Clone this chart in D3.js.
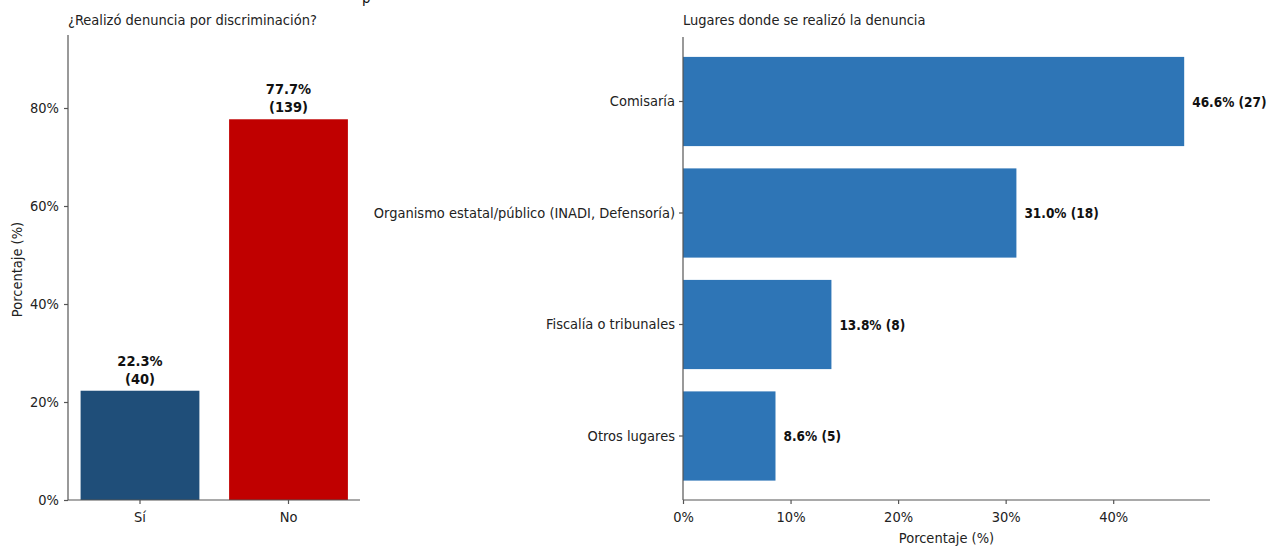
<!DOCTYPE html>
<html><head><meta charset="utf-8">
<script src="https://cdn.jsdelivr.net/npm/d3@7"></script>
<style>
body{margin:0;background:#fff;}
svg text{font-family:"DejaVu Sans Condensed","DejaVu Sans",sans-serif;}
</style></head>
<body><svg id="c" width="1278" height="546"></svg>
<script>
const leftCats = ["Sí","No"];
const leftPct = [22.3, 77.7];
const leftN = [40, 139];
const leftColors = ["#1f4e79","#c00000"];
const leftTicks = [0,20,40,60,80];

const rightCats = ["Comisaría","Organismo estatal/público (INADI, Defensoría)","Fiscalía o tribunales","Otros lugares"];
const rightPct = [46.6, 31.0, 13.8, 8.6];
const rightN = [27, 18, 8, 5];
const rightTicks = [0,10,20,30,40];

const svg = d3.select("#c");
const axisCol = "#555", txtCol = "#222", fs = 14.5;

// stray cut-off glyph at top
svg.append("text").attr("x",362).attr("y",3).attr("font-size",15).attr("fill","#111").text("p");

// LEFT
const L = {x0:68, x1:360, y0:500, y1:35};
const ly = d3.scaleLinear().domain([0,94.9]).range([L.y0,L.y1]);
const lx = d3.scaleBand().domain(leftCats).range([140-74.25, 288.5+74.25]).paddingInner(0.2).paddingOuter(0.1);
const lg = svg.append("g");
lg.selectAll("rect").data(leftCats).join("rect")
  .attr("x",d=>lx(d)).attr("width",lx.bandwidth())
  .attr("y",(d,i)=>ly(leftPct[i])).attr("height",(d,i)=>ly(0)-ly(leftPct[i]))
  .attr("fill",(d,i)=>leftColors[i]);
const lyAx = lg.append("g").attr("transform",`translate(${L.x0},0)`)
  .call(d3.axisLeft(ly).tickValues(leftTicks).tickFormat(d=>d+"%").tickSize(4).tickPadding(5));
lyAx.select(".domain").attr("d",`M0,${L.y0}V${L.y1}`);
const lxAx = lg.append("g").attr("transform",`translate(0,${L.y0})`)
  .call(d3.axisBottom(lx).tickSize(4).tickPadding(8));
lxAx.select(".domain").attr("d",`M${L.x0},0H${L.x1}`);
[lyAx,lxAx].forEach(a=>{a.selectAll("path,line").attr("stroke",axisCol).attr("stroke-width",1.2); a.selectAll("text").attr("font-size",fs).attr("fill",txtCol).attr("font-family",null);});
leftCats.forEach((c,i)=>{
  const cx = lx(c)+lx.bandwidth()/2, t = ly(leftPct[i]);
  lg.append("text").attr("x",cx).attr("y",t-25).attr("text-anchor","middle").attr("font-size",14.5).attr("font-weight","bold").attr("fill","#111").text(leftPct[i].toFixed(1)+"%");
  lg.append("text").attr("x",cx).attr("y",t-7).attr("text-anchor","middle").attr("font-size",14.5).attr("font-weight","bold").attr("fill","#111").text("("+leftN[i]+")");
});
lg.append("text").attr("x",L.x0).attr("y",25).attr("font-size",fs).attr("fill",txtCol).text("¿Realizó denuncia por discriminación?");
lg.append("text").attr("transform",`translate(22,${(L.y0+L.y1)/2+2}) rotate(-90)`).attr("text-anchor","middle").attr("font-size",fs).attr("fill",txtCol).text("Porcentaje (%)");

// RIGHT
const R = {x0:683, x1:1210, y0:500, y1:37};
const rx = d3.scaleLinear().domain([0,49.0]).range([R.x0,R.x1]);
const step = 111.5;
const ry = d3.scaleBand().domain(rightCats).range([101.5-step/2, 436+step/2]).paddingInner(0.2).paddingOuter(0.1);
const rg = svg.append("g");
rg.selectAll("rect").data(rightCats).join("rect")
  .attr("x",R.x0).attr("width",(d,i)=>rx(rightPct[i])-R.x0)
  .attr("y",d=>ry(d)).attr("height",ry.bandwidth())
  .attr("fill","#2e75b6");
const ryAx = rg.append("g").attr("transform",`translate(${R.x0},0)`)
  .call(d3.axisLeft(ry).tickSize(4).tickPadding(4));
ryAx.select(".domain").attr("d",`M0,${R.y0}V${R.y1}`);
const rxAx = rg.append("g").attr("transform",`translate(0,${R.y0})`)
  .call(d3.axisBottom(rx).tickValues(rightTicks).tickFormat(d=>d+"%").tickSize(4).tickPadding(8));
rxAx.select(".domain").attr("d",`M${R.x0},0H${R.x1}`);
[ryAx,rxAx].forEach(a=>{a.selectAll("path,line").attr("stroke",axisCol).attr("stroke-width",1.2); a.selectAll("text").attr("font-size",fs).attr("fill",txtCol).attr("font-family",null);});
rightCats.forEach((c,i)=>{
  rg.append("text").attr("x",rx(rightPct[i])+8).attr("y",ry(c)+ry.bandwidth()/2+5).attr("font-size",13.5).attr("font-weight","bold").attr("fill","#111")
    .text(rightPct[i].toFixed(1)+"% ("+rightN[i]+")");
});
rg.append("text").attr("x",R.x0).attr("y",25).attr("font-size",fs).attr("fill",txtCol).text("Lugares donde se realizó la denuncia");
rg.append("text").attr("x",(R.x0+R.x1)/2).attr("y",543).attr("text-anchor","middle").attr("font-size",fs).attr("fill",txtCol).text("Porcentaje (%)");
</script></body></html>
